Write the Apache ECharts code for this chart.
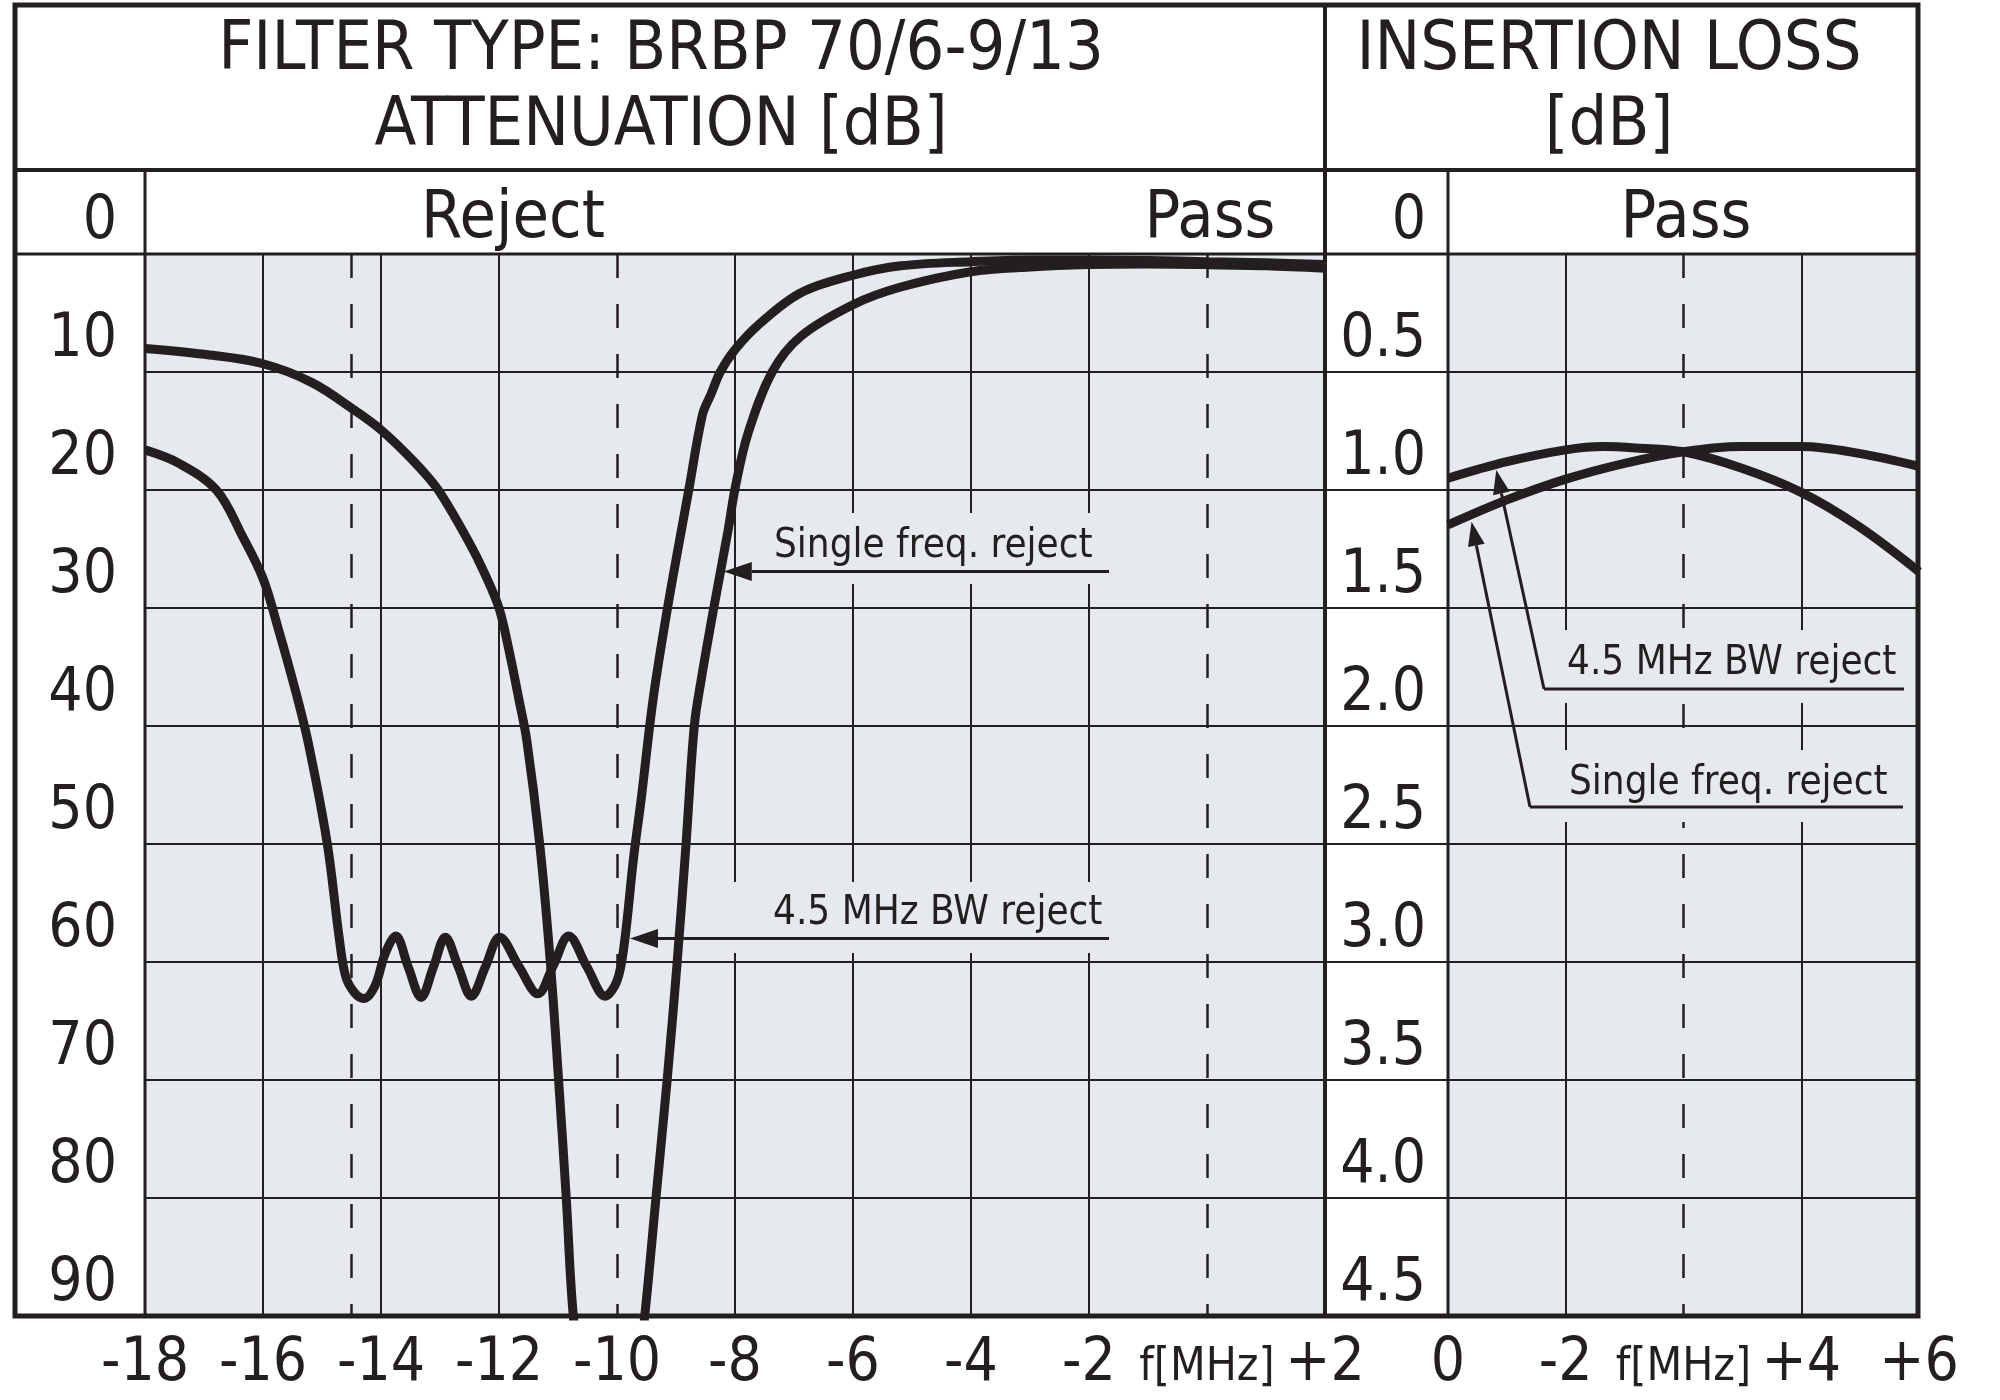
<!DOCTYPE html>
<html>
<head>
<meta charset="utf-8">
<title>BRBP 70/6-9/13</title>
<script src="https://cdn.jsdelivr.net/npm/echarts@6/dist/echarts.min.js"></script>
<style>
html, body { margin: 0; padding: 0; background: #fff; }
#main { width: 2000px; height: 1400px; }
</style>
</head>
<body>
<div id="main"></div>
<script>
// attenuation [dB] vs f [MHz], left panel
var sfFreq = [-18, -17, -16, -15.17, -14.46, -14, -13.42, -13.03, -12.5, -12.25, -12, -11.83, -11.66, -11.53, -11.31, -11.13, -10.99, -10.86, -10.74, -10.55, -10.12, -9.7, -9.53, -9.34, -9.15, -8.98, -8.83, -8.69, -8.57, -8.36, -8.12, -8.0, -7.78, -7.37, -6.89, -6.0, -5.19, -4.0, -3.0, -2.0, -1.0, 0, 1, 2];
var sfAtt = [8.0, 8.5, 9.3, 10.9, 13.2, 14.9, 17.7, 20.0, 24.5, 27.0, 30.0, 33.6, 37.8, 41.2, 50.0, 60.0, 70.0, 80.0, 90.0, 97, 101, 97, 90.0, 80.0, 70.0, 60.0, 50.0, 40.0, 36.0, 30.0, 23.5, 19.9, 15.2, 10.0, 7.0, 4.3, 2.8, 1.5, 1.1, 0.9, 0.85, 0.9, 1.0, 1.2];

var bwFreq = [-18, -17.44, -16.79, -16.34, -16.0, -15.75, -15.45, -15.23, -14.91, -14.71, -14.6, -14.45, -14.29, -14.1, -13.93, -13.75, -13.54, -13.32, -13.11, -12.91, -12.69, -12.47, -12.23, -11.99, -11.66, -11.34, -11.08, -10.82, -10.51, -10.2, -10.0, -9.88, -9.72, -9.59, -9.39, -9.14, -8.78, -8.55, -8.4, -8.25, -8.0, -7.58, -6.89, -6.0, -5.19, -4.0, -3.0, -2.0, -1.0, 0, 1, 2];
var bwAtt = [16.6, 17.7, 20.0, 24.0, 27.5, 31.6, 37.0, 41.5, 50.0, 57.9, 61.2, 62.6, 63.1, 62.0, 59.3, 57.8, 60.4, 63.0, 60.4, 57.9, 60.4, 62.9, 60.4, 57.9, 60.4, 62.7, 60.3, 57.8, 60.4, 62.9, 61.6, 58.6, 51.2, 46.2, 37.8, 29.9, 19.9, 13.6, 11.8, 10.0, 8.1, 5.9, 3.3, 1.8, 1.0, 0.65, 0.5, 0.5, 0.55, 0.65, 0.75, 0.9];

// insertion loss [dB], right panel
var ilBwPos = [0, 0.5, 1.0, 1.32, 1.6, 2.0, 2.49, 3.0, 3.49, 4.0];
var ilBwLoss = [0.95, 0.88, 0.83, 0.816, 0.822, 0.838, 0.907, 1.01, 1.155, 1.346];
var ilSfPos = [0, 0.5, 1.0, 1.5, 2.0, 2.49, 3.0, 3.49, 4.0];
var ilSfLoss = [1.148, 1.042, 0.954, 0.887, 0.838, 0.816, 0.816, 0.845, 0.90];

// tick labels
var attXLabels = ['-18', '-16', '-14', '-12', '-10', '-8', '-6', '-4', '-2', 'f[MHz]', '+2'];
var attYLabels = ['0', '10', '20', '30', '40', '50', '60', '70', '80', '90'];
var ilXLabels = ['0', '-2', 'f[MHz]', '+4', '+6'];
var ilYLabels = ['0', '0.5', '1.0', '1.5', '2.0', '2.5', '3.0', '3.5', '4.0', '4.5'];

// dashed marker lines
var attDashed = [-14.5, -10, 0];
var ilDashed = [2];

// where the note arrows touch the curves (data coords)
var noteTips = {
  sfLeft: [-8.19, 26.9],
  bwLeft: [-9.78, 58.0],
  bwRight: [0.41, 0.915],
  sfRight: [0.2, 1.135]
};

var INK = '#231f20';
var PLOT_BG = '#e6e9ed';
var MAIN_FONT = "'Liberation Sans Narrow', 'DejaVu Sans Condensed', 'Noto Sans', sans-serif";
var NOTE_FONT = "'DejaVu Sans Condensed', 'DejaVu Sans', sans-serif";

function zip(xs, ys) {
  return xs.map(function (x, i) { return [x, ys[i]]; });
}

function xAxisOf(gi, min, max, labels, dashIdx) {
  var colors = labels.map(function (l, i) { return dashIdx.indexOf(i) >= 0 ? 'transparent' : INK; });
  return {
    type: 'value', gridIndex: gi, min: min, max: max, interval: (max - min) / (labels.length - 1),
    axisLine: { show: false },
    axisTick: { show: false },
    splitLine: { show: true, lineStyle: { color: colors, width: 2 } },
    axisLabel: {
      color: INK, fontFamily: MAIN_FONT, fontSize: 60, margin: 18,
      formatter: function (v, i) {
        var s = labels[i];
        return s.indexOf('f[') === 0 ? '{u|' + s + '}' : s;
      },
      rich: { u: { fontSize: 46, lineHeight: 68, fontFamily: MAIN_FONT, color: INK } }
    }
  };
}

function yAxisOf(gi, max, labels, tickLen, margin) {
  var step = max / (labels.length - 1);
  return {
    type: 'value', gridIndex: gi, min: 0, max: max, interval: step, inverse: true,
    axisLine: { show: false },
    axisTick: { show: true, length: tickLen, lineStyle: { color: INK, width: 2 } },
    splitLine: { show: true, lineStyle: { color: INK, width: 2 } },
    axisLabel: {
      color: INK, fontFamily: MAIN_FONT, fontSize: 60, margin: margin,
      verticalAlign: 'bottom', lineHeight: 63,
      formatter: function (v) { return labels[Math.round(v / step)]; }
    }
  };
}

function curve(name, data, gi) {
  return {
    name: name, type: 'line', xAxisIndex: gi, yAxisIndex: gi,
    data: data, smooth: 0.35, showSymbol: false, clip: true,
    lineStyle: { color: INK, width: 9 }, silent: true, z: 3
  };
}

function dashedLines(gi, xs) {
  return {
    type: 'line', xAxisIndex: gi, yAxisIndex: gi, data: [], silent: true,
    markLine: {
      silent: true, symbol: ['none', 'none'], label: { show: false },
      lineStyle: { color: INK, width: 2.5, type: [24, 26] },
      data: xs.map(function (x) { return { xAxis: x }; })
    }
  };
}

var option = {
  backgroundColor: '#ffffff',
  animation: false,
  grid: [
    { left: 145, top: 254, width: 1180, height: 1062, show: true, backgroundColor: PLOT_BG, borderWidth: 0, containLabel: false, outerBoundsMode: 'none' },
    { left: 1448, top: 254, width: 471, height: 1062, show: true, backgroundColor: PLOT_BG, borderWidth: 0, containLabel: false, outerBoundsMode: 'none' }
  ],
  xAxis: [
    xAxisOf(0, -18, 2, attXLabels, [4, 9]),
    xAxisOf(1, 0, 4, ilXLabels, [2])
  ],
  yAxis: [
    yAxisOf(0, 90, attYLabels, 130, 28),
    yAxisOf(1, 4.5, ilYLabels, 123, 22)
  ],
  series: [
    dashedLines(0, attDashed),
    dashedLines(1, ilDashed),
    curve('Single freq. reject', zip(sfFreq, sfAtt), 0),
    curve('4.5 MHz BW reject', zip(bwFreq, bwAtt), 0),
    curve('Single freq. reject IL', zip(ilSfPos, ilSfLoss), 1),
    curve('4.5 MHz BW reject IL', zip(ilBwPos, ilBwLoss), 1)
  ]
};

var chart = echarts.init(document.getElementById('main'));
chart.setOption(option);

function px(gi, p) {
  return chart.convertToPixel({ gridIndex: gi }, p);
}

function line(pts, w) {
  return { type: 'polyline', shape: { points: pts }, style: { stroke: INK, lineWidth: w, fill: null }, z: 20, silent: true };
}

function label(text, x, y, font, size, align) {
  return {
    type: 'text', x: x, y: y, z: 20, silent: true,
    style: { text: text, fontFamily: font, fontSize: size, fill: INK, align: align || 'center', verticalAlign: 'middle' }
  };
}

function gap(x, y, w, h) {
  return { type: 'rect', shape: { x: x, y: y, width: w, height: h }, style: { fill: PLOT_BG }, z: 6, silent: true };
}

// arrow shaft from 'from' to 'tip' with a filled head
function arrow(from, tip, len, half) {
  var dx = from[0] - tip[0], dy = from[1] - tip[1];
  var L = Math.sqrt(dx * dx + dy * dy);
  var ux = dx / L, uy = dy / L;
  var bx = tip[0] + ux * len, by = tip[1] + uy * len;
  return [
    line([from, [bx, by]], 3),
    {
      type: 'polygon', z: 20, silent: true,
      shape: { points: [tip, [bx - uy * half, by + ux * half], [bx + uy * half, by - ux * half]] },
      style: { fill: INK }
    }
  ];
}

var tSfL = px(0, noteTips.sfLeft);
var tBwL = px(0, noteTips.bwLeft);
var tBwR = px(1, noteTips.bwRight);
var tSfR = px(1, noteTips.sfRight);

var els = [
  // frame
  { type: 'rect', shape: { x: 15, y: 5, width: 1903, height: 1311 }, style: { fill: null, stroke: INK, lineWidth: 5 }, z: 30, silent: true },
  line([[15, 170], [1918, 170]], 4),
  line([[15, 254], [1918, 254]], 3),
  line([[1325, 5], [1325, 1316]], 4),
  line([[145, 170], [145, 1316]], 3),
  line([[1448, 170], [1448, 1316]], 3),
  // headers
  label('FILTER TYPE: BRBP 70/6-9/13', 661, 51, MAIN_FONT, 68),
  label('ATTENUATION [dB]', 661, 127, MAIN_FONT, 68),
  label('INSERTION LOSS', 1609, 51, MAIN_FONT, 68),
  label('[dB]', 1609, 127, MAIN_FONT, 68),
  label('Reject', 513, 220, MAIN_FONT, 66),
  label('Pass', 1210, 220, MAIN_FONT, 66),
  label('Pass', 1686, 220, MAIN_FONT, 66),
  // gaps in the grid behind the notes
  gap(745, 513, 367, 71),
  gap(722, 882, 390, 71),
  gap(1548, 630, 362, 73),
  gap(1548, 750, 362, 72),
  // notes
  label('Single freq. reject', 774, 547, NOTE_FONT, 40, 'left'),
  label('4.5 MHz BW reject', 773, 914, NOTE_FONT, 40, 'left'),
  label('4.5 MHz BW reject', 1567, 664, NOTE_FONT, 40, 'left'),
  label('Single freq. reject', 1569, 784, NOTE_FONT, 40, 'left')
];

els = els.concat(arrow([1109, tSfL[1]], tSfL, 28, 9.5));
els = els.concat(arrow([1109, tBwL[1]], tBwL, 28, 9.5));
els.push(line([[1904, 689], [1544, 689]], 3));
els = els.concat(arrow([1544, 689], tBwR, 24, 8.5));
els.push(line([[1903, 807], [1530, 807]], 3));
els = els.concat(arrow([1530, 807], tSfR, 24, 8.5));

chart.setOption({ graphic: { elements: els } });
</script>
</body>
</html>
